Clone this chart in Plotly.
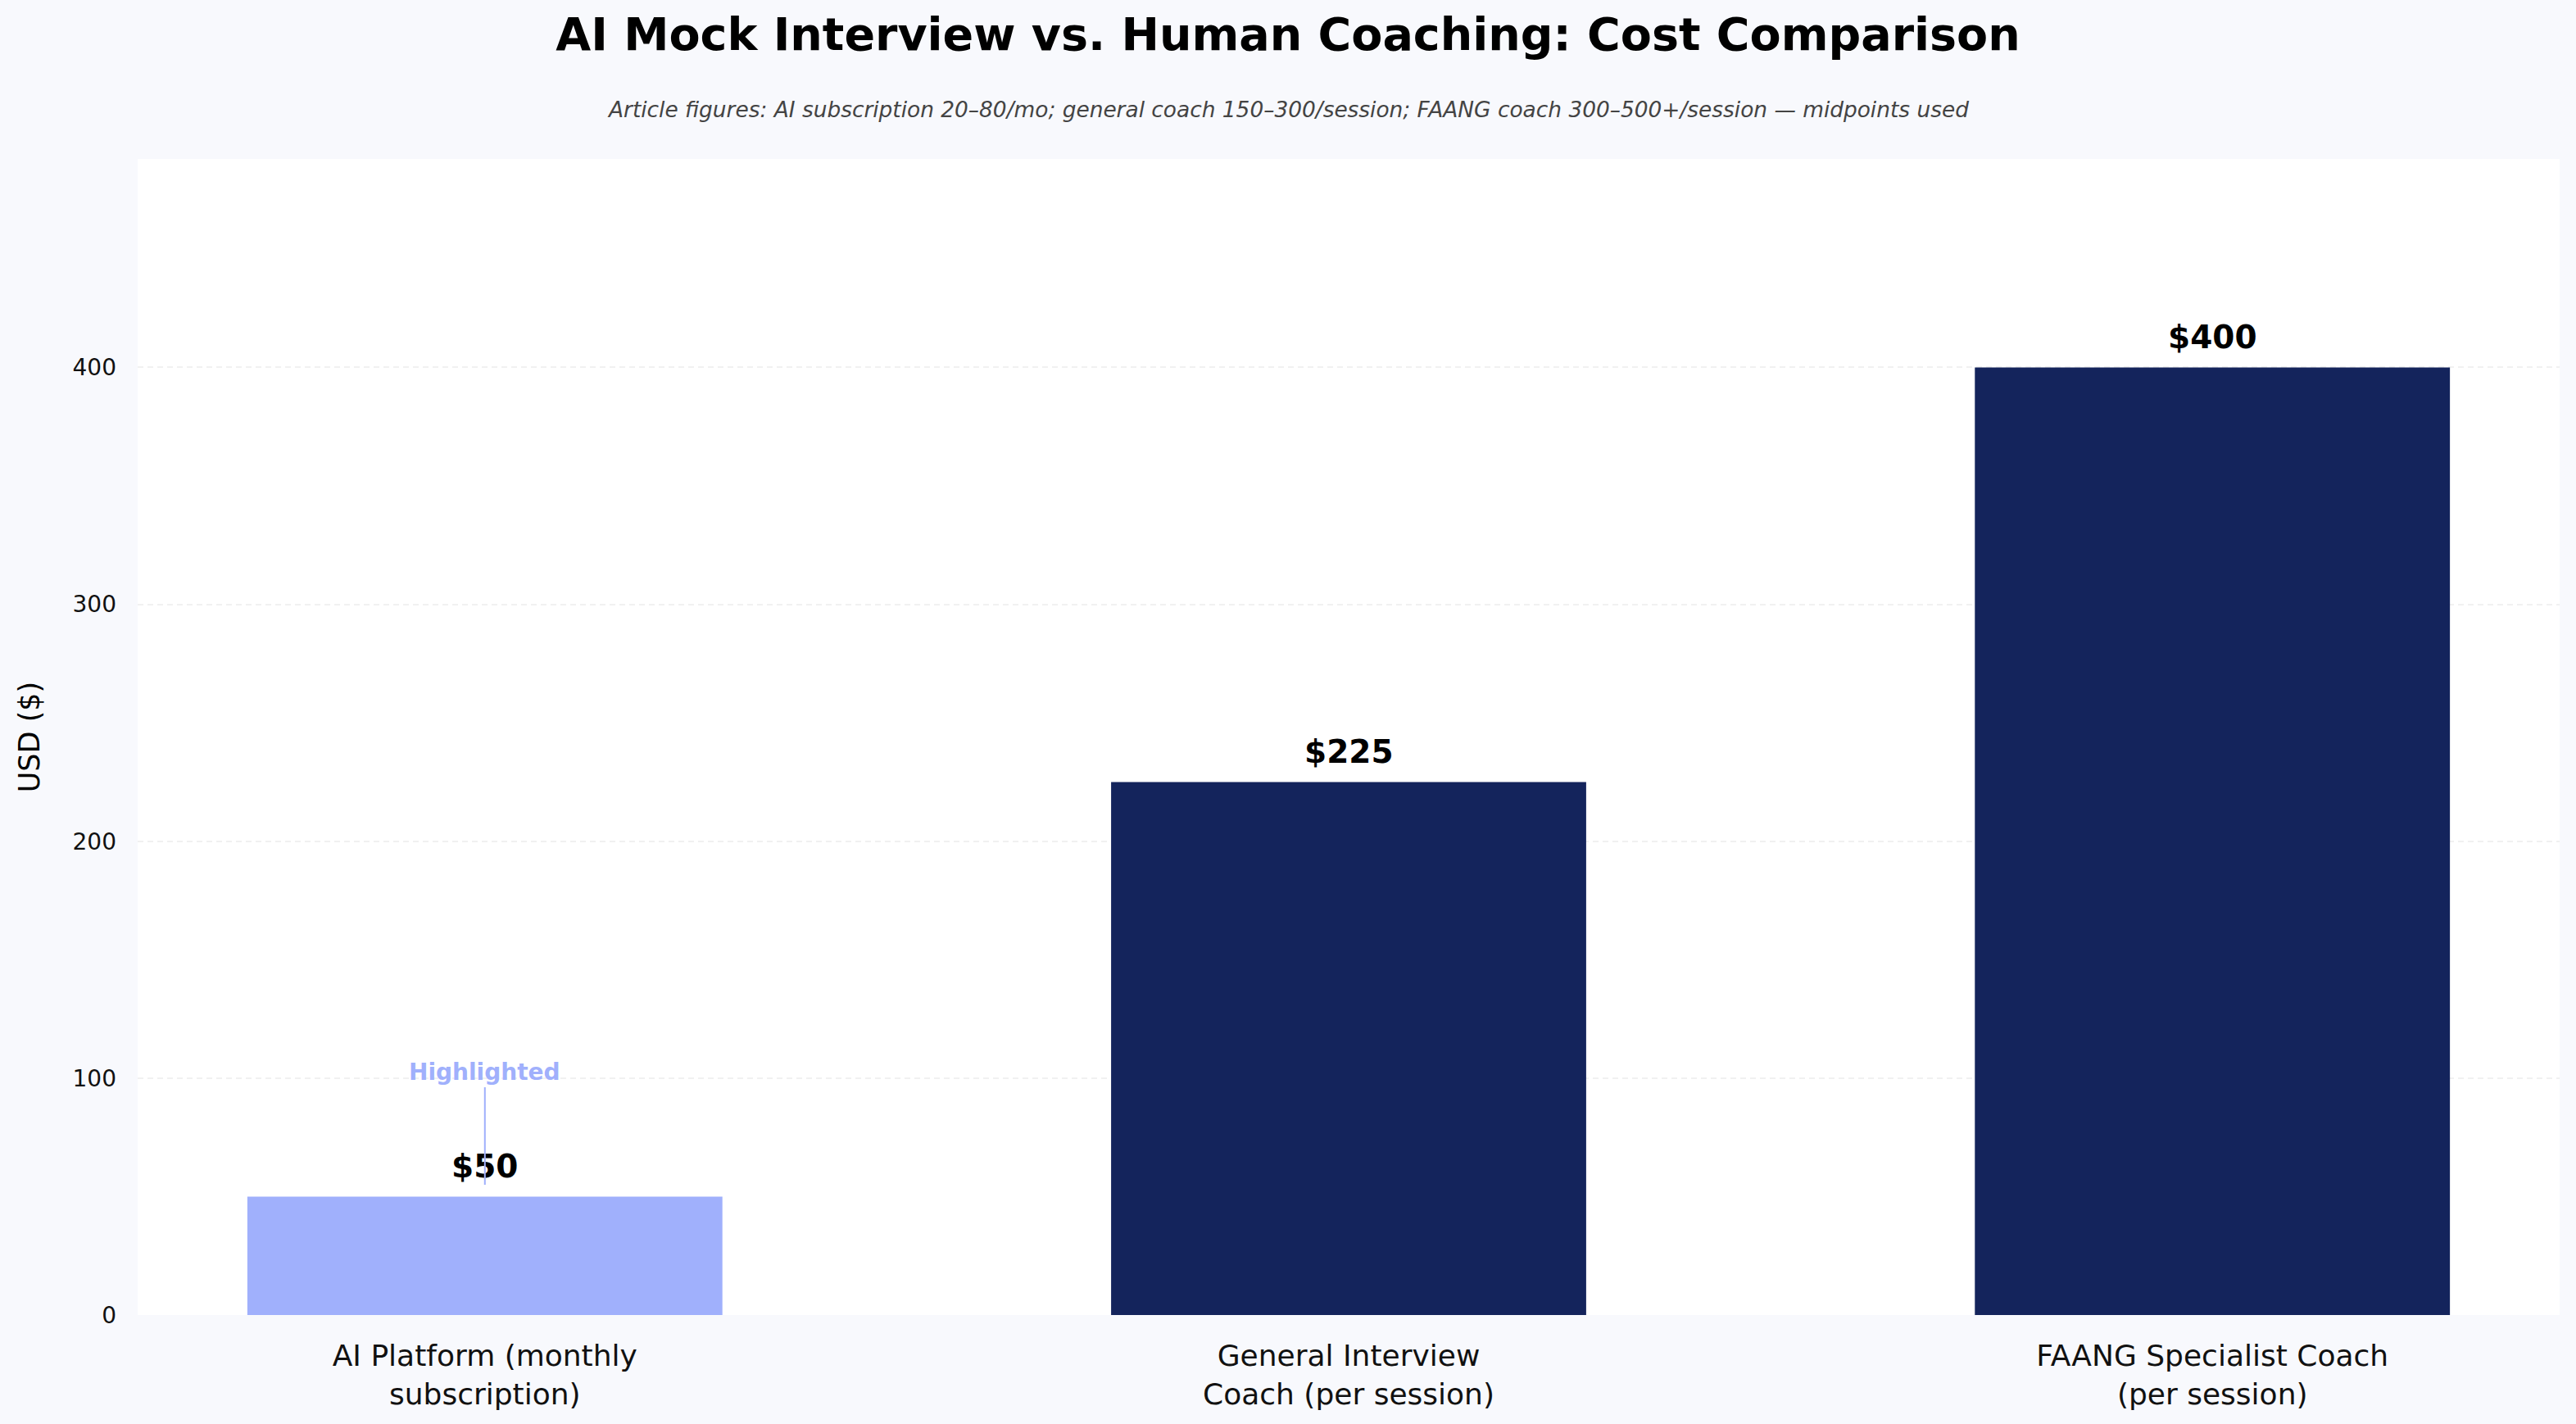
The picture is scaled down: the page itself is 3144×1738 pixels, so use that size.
import plotly.graph_objects as go

# Chart data
categories = ["AI Platform (monthly<br>subscription)",
              "General Interview<br>Coach (per session)",
              "FAANG Specialist Coach<br>(per session)"]
costs = [50, 225, 400]
bar_colors = ["#A0B0FC", "#14245C", "#14245C"]
y_ticks = [0, 100, 200, 300, 400]

title_text = "AI Mock Interview vs. Human Coaching: Cost Comparison"
subtitle_text = ("Article figures: AI subscription 20–80/mo; general coach 150–300/session; "
                 "FAANG coach 300–500+/session — midpoints used")

font_family = "DejaVu Sans"

W, H = 3144, 1738
M_L, M_R, M_T, M_B = 168, 20, 194, 133
plot_w = W - M_L - M_R
plot_h = H - M_T - M_B

fig = go.Figure()

fig.add_trace(go.Bar(
    x=list(range(len(categories))),
    y=costs,
    width=0.55,
    marker=dict(color=bar_colors, line=dict(width=0)),
    hoverinfo="skip",
    showlegend=False,
))

# Value labels above bars
for i, v in enumerate(costs):
    fig.add_annotation(
        x=i, y=v, text=f"<b>${v}</b>", showarrow=False,
        yanchor="bottom", yshift=12,
        font=dict(family=font_family, size=39, color="#000000"),
    )

# Highlight callout for the AI bar
fig.add_annotation(
    x=0, y=55, text="<b>Highlighted</b>",
    showarrow=True, arrowhead=0, arrowwidth=2, arrowcolor="#A0B0FC",
    ax=0, ay=-137, standoff=0,
    font=dict(family=font_family, size=28, color="#A0B0FC"),
)

# Subtitle, centred on the page (~133px from the top)
fig.add_annotation(
    x=(W / 2 - M_L) / plot_w, y=(H - M_B - 133) / plot_h,
    xref="paper", yref="paper", xanchor="center", yanchor="middle",
    text=f"<i>{subtitle_text}</i>", showarrow=False,
    font=dict(family=font_family, size=26.4, color="#444444"),
)

fig.update_layout(
    width=W, height=H,
    margin=dict(l=M_L, r=M_R, t=M_T, b=M_B),
    paper_bgcolor="#F8F9FD",
    plot_bgcolor="#FFFFFF",
    title=dict(text=f"<b>{title_text}</b>", x=0.5, xanchor="center",
               y=1 - 42 / H, yanchor="middle",
               font=dict(family=font_family, size=55.5, color="#000000")),
    font=dict(family=font_family, color="#000000"),
)

fig.update_xaxes(
    tickmode="array", tickvals=list(range(len(categories))), ticktext=categories,
    range=[-0.402, 2.402], showgrid=False, zeroline=False, showline=False,
    ticks="", tickfont=dict(family=font_family, size=36, color="#111111"),
    ticklabelstandoff=25,
)
fig.update_yaxes(
    range=[0, 488], tickmode="array", tickvals=y_ticks,
    showgrid=True, gridcolor="#F1F1F1", griddash="7px,5px", gridwidth=2,
    zeroline=False, showline=False, ticks="",
    tickfont=dict(family=font_family, size=28, color="#111111"),
    ticklabelstandoff=25,
    title=dict(text="USD ($)", font=dict(family=font_family, size=35, color="#000000"),
               standoff=29),
)

fig.write_html("out.html", config={"displayModeBar": False},
               post_script="document.body.style.margin='0';")
